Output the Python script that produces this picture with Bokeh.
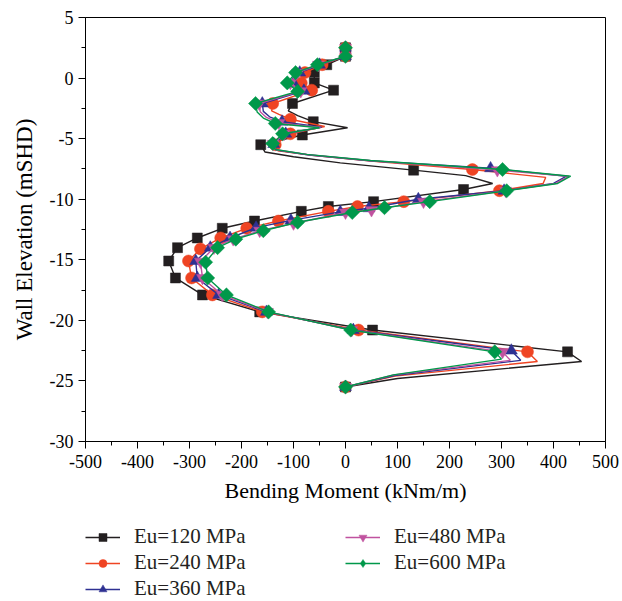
import math
from bokeh.plotting import figure
from bokeh.layouts import column
from bokeh.models import Range1d, Legend, LegendItem, FixedTicker
from bokeh.embed import file_html
from bokeh.resources import INLINE

# ---------------- data ----------------
labels = ["Eu=120 MPa", "Eu=240 MPa", "Eu=360 MPa", "Eu=480 MPa", "Eu=600 MPa"]

# 1 = point drawn with a symbol, 0 = line vertex only
mark_flags = [1, 1, 1, 1, 1, 1, 1, 0, 0, 1, 0, 1, 1, 0, 0, 0, 1, 0, 0, 1,
              1, 1, 1, 1, 1, 1, 1, 1, 1, 1, 1, 1, 1, 0, 0, 1]

x120 = [0, 0, -36, -60, -60, -23, -102, -110, -92, -62, 4, -83, -163, -155, -100, -10, 131, 231, 283, 227,
        54, -33, -85, -175, -237, -285, -323, -340, -327, -275, -165, 52, 427, 454, 100, 0]
y120 = [2.5, 1.8, 1.1, 0.45, -0.4, -1.0, -2.1, -2.7, -3.1, -3.6, -4.1, -4.7, -5.5, -6.1, -6.5, -7.0, -7.6, -8.05, -8.7, -9.2,
        -10.2, -10.6, -11.0, -11.8, -12.4, -13.2, -14.0, -15.1, -16.5, -17.9, -19.3, -20.8, -22.6, -23.4, -24.8, -25.5]

x240 = [0, 0, -45, -78, -85, -65, -140, -142, -128, -106, -40, -106, -135, -130, -60, 60, 244, 385, 380, 296,
        112, 23, -33, -129, -190, -240, -279, -302, -296, -256, -160, 25, 350, 369, 95, 0]
y240 = [2.5, 1.8, 1.1, 0.45, -0.4, -1.0, -2.1, -2.7, -3.0, -3.4, -4.0, -4.6, -5.5, -6.0, -6.4, -6.9, -7.55, -8.2, -8.7, -9.3,
        -10.2, -10.6, -11.0, -11.8, -12.4, -13.2, -14.1, -15.1, -16.5, -17.9, -19.3, -20.8, -22.6, -23.4, -24.6, -25.5]

x360 = [0, 0, -50, -88, -100, -80, -160, -158, -146, -122, -46, -115, -138, -133, -70, 52, 279, 425, 400, 305,
        140, 45, -10, -105, -172, -222, -260, -288, -285, -244, -152, 15, 319, 337, 94, 0]
y360 = [2.5, 1.8, 1.1, 0.45, -0.4, -1.05, -2.1, -2.75, -3.2, -3.6, -4.05, -4.6, -5.45, -5.95, -6.35, -6.85, -7.45, -8.1, -8.7, -9.3,
        -10.0, -10.75, -11.05, -11.75, -12.35, -13.2, -14.0, -15.1, -16.5, -17.9, -19.3, -20.8, -22.5, -23.3, -24.55, -25.5]

x480 = [0, 0, -52, -92, -106, -86, -166, -164, -152, -128, -48, -118, -139, -134, -72, 50, 292, 430, 404, 308,
        150, 50, 0, -100, -165, -216, -253, -279, -275, -237, -150, 12, 302, 317, 93, 0]
y480 = [2.5, 1.8, 1.1, 0.45, -0.4, -1.08, -2.1, -2.78, -3.25, -3.7, -4.08, -4.6, -5.42, -5.92, -6.32, -6.82, -7.6, -8.1, -8.7, -9.3,
        -10.2, -10.9, -11.1, -12.0, -12.6, -13.3, -14.0, -15.15, -16.5, -17.9, -19.3, -20.8, -22.6, -23.3, -24.5, -25.5]

x600 = [0, 0, -54, -96, -112, -92, -173, -170, -158, -135, -50, -121, -140, -135, -75, 48, 302, 433, 408, 310,
        162, 75, 13, -92, -158, -211, -246, -269, -265, -229, -148, 10, 287, 300, 92, 0]
y600 = [2.5, 1.8, 1.1, 0.45, -0.4, -1.1, -2.1, -2.8, -3.3, -3.75, -4.1, -4.6, -5.4, -5.9, -6.3, -6.8, -7.55, -8.1, -8.7, -9.3,
        -10.2, -10.7, -11.1, -11.9, -12.6, -13.3, -14.0, -15.2, -16.5, -17.9, -19.3, -20.8, -22.6, -23.2, -24.5, -25.5]

x_ticks = [-500, -400, -300, -200, -100, 0, 100, 200, 300, 400, 500]
x_tick_labels = ["-500", "-400", "-300", "-200", "-100", "0", "100", "200", "300", "400", "500"]
y_ticks = [5, 0, -5, -10, -15, -20, -25, -30]
y_tick_labels = ["5", "0", "-5", "-10", "-15", "-20", "-25", "-30"]

# ---------------- styling ----------------
FONT = "Liberation Serif"
colors = ["#231f20", "#ef4423", "#2e3192", "#c0529f", "#00984a"]
markers = ["square", "circle", "triangle", "inverted_triangle", "square"]
legend_markers = ["square", "circle", "triangle", "inverted_triangle", "diamond"]
sizes = [10, 12, 12, 12, 10]
legend_sizes = [10, 12, 12, 12, 16]
angles = [0, 0, 0, 0, math.pi / 4]

p = figure(frame_width=520, frame_height=424,
           x_range=Range1d(-500, 500), y_range=Range1d(-30, 5),
           output_backend="svg", toolbar_location=None,
           min_border_left=85, min_border_right=17, min_border_top=17, min_border_bottom=80)
p.background_fill_color = "white"
p.border_fill_color = "white"
p.outline_line_color = "black"
p.outline_line_width = 1
p.xgrid.visible = False
p.ygrid.visible = False

# legend strip below the chart (its proxy glyphs sit outside its visible range)
leg = figure(frame_width=520, frame_height=80,
             x_range=Range1d(0, 1), y_range=Range1d(0, 1),
             output_backend="svg", toolbar_location=None,
             min_border_left=85, min_border_right=17, min_border_top=0, min_border_bottom=0)
leg.axis.visible = False
leg.grid.visible = False
leg.outline_line_color = None
leg.background_fill_color = "white"
leg.border_fill_color = "white"

xs = [x120, x240, x360, x480, x600]
ys = [y120, y240, y360, y480, y600]
items = []
for i in range(5):
    p.line(xs[i], ys[i], line_color=colors[i], line_width=1.4)
    mx = [x for x, f in zip(xs[i], mark_flags) if f]
    my = [y for y, f in zip(ys[i], mark_flags) if f]
    p.scatter(mx, my, marker=markers[i], size=sizes[i], angle=angles[i],
              fill_color=colors[i], line_color=colors[i], line_width=0.5)
    lr = leg.line([-5, -4], [-5, -5], line_color=colors[i], line_width=1.4)
    sr = leg.scatter([-5], [-5], marker=legend_markers[i], size=legend_sizes[i],
                     fill_color=colors[i], line_color=colors[i], line_width=0.5)
    items.append(LegendItem(label=labels[i], renderers=[lr, sr]))

for ax in (p.xaxis[0], p.yaxis[0]):
    ax.axis_line_color = "black"
    ax.major_tick_line_color = "black"
    ax.minor_tick_line_color = "black"
    ax.major_tick_in = 0
    ax.major_tick_out = 7
    ax.minor_tick_in = 0
    ax.minor_tick_out = 4
    ax.major_label_text_font = FONT
    ax.major_label_text_font_size = "18px"
    ax.major_label_text_color = "black"
    ax.axis_label_text_font = FONT
    ax.axis_label_text_font_style = "normal"
    ax.axis_label_text_color = "black"

p.xaxis.ticker = FixedTicker(ticks=x_ticks, minor_ticks=[t + 50 for t in x_ticks[:-1]])
p.yaxis.ticker = FixedTicker(ticks=y_ticks, minor_ticks=[t - 2.5 for t in y_ticks[:-1]])
p.xaxis.major_label_overrides = {t: s for t, s in zip(x_ticks, x_tick_labels)}
p.yaxis.major_label_overrides = {t: s for t, s in zip(y_ticks, y_tick_labels)}
p.xaxis.axis_label = "Bending Moment (kNm/m)"
p.yaxis.axis_label = "Wall Elevation (mSHD)"
p.xaxis.axis_label_text_font_size = "22px"
p.yaxis.axis_label_text_font_size = "23px"
p.xaxis.major_label_standoff = 6
p.yaxis.major_label_standoff = 5
p.xaxis.axis_label_standoff = 7
p.yaxis.axis_label_standoff = 10

legend = Legend(items=items, orientation="vertical", nrows=3,
                location=(0, 0), padding=0, margin=0, spacing=1,
                glyph_width=35, glyph_height=20, label_height=20, label_width=210,
                label_standoff=14, label_text_font=FONT, label_text_font_size="21px",
                label_text_color="#231f20",
                border_line_color=None, background_fill_alpha=0)
leg.add_layout(legend, "center")

layout = column(p, leg, spacing=0)
open("out.html", "w").write(file_html(layout, INLINE))
